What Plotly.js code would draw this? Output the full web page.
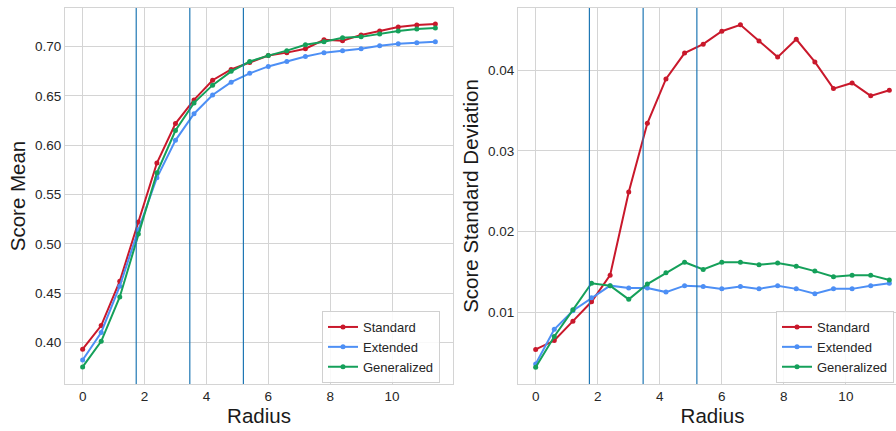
<!DOCTYPE html>
<html>
<head>
<meta charset="utf-8">
<script src="https://cdn.plot.ly/plotly-3.0.1.min.js"></script>
<style>
html, body { margin: 0; padding: 0; overflow: hidden; background: #ffffff; }
#chart { width: 915px; height: 431px; }
</style>
</head>
<body>
<div id="chart"></div>
<script>
// Radius values
const radius = [0, 0.6, 1.2, 1.8, 2.4, 3.0, 3.6, 4.2, 4.8, 5.4, 6.0, 6.6, 7.2, 7.8, 8.4, 9.0, 9.6, 10.2, 10.8, 11.4];

// Score mean
const meanStandard    = [0.393, 0.417, 0.462, 0.522, 0.582, 0.622, 0.646, 0.666, 0.677, 0.684, 0.691, 0.694, 0.698, 0.707, 0.706, 0.712, 0.716, 0.720, 0.722, 0.723];
const meanExtended    = [0.382, 0.410, 0.457, 0.514, 0.567, 0.605, 0.632, 0.651, 0.664, 0.673, 0.680, 0.685, 0.690, 0.694, 0.696, 0.698, 0.701, 0.703, 0.704, 0.705];
const meanGeneralized = [0.375, 0.401, 0.446, 0.510, 0.572, 0.615, 0.643, 0.661, 0.675, 0.685, 0.691, 0.696, 0.702, 0.705, 0.709, 0.710, 0.713, 0.716, 0.718, 0.719];

// Score standard deviation
const sdStandard    = [0.0054, 0.0065, 0.0089, 0.0113, 0.0146, 0.0249, 0.0334, 0.0389, 0.0421, 0.0432, 0.0448, 0.0456, 0.0436, 0.0416, 0.0438, 0.0410, 0.0377, 0.0384, 0.0368, 0.0375];
const sdExtended    = [0.0036, 0.0079, 0.0102, 0.0118, 0.0133, 0.0130, 0.0130, 0.0125, 0.0133, 0.0132, 0.0129, 0.0132, 0.0129, 0.0133, 0.0129, 0.0123, 0.0129, 0.0129, 0.0133, 0.0136];
const sdGeneralized = [0.0032, 0.0070, 0.0103, 0.0136, 0.0133, 0.0116, 0.0135, 0.0149, 0.0162, 0.0153, 0.0162, 0.0162, 0.0159, 0.0161, 0.0157, 0.0151, 0.0144, 0.0146, 0.0146, 0.0140];

// Vertical reference lines (multiples of sqrt(3))
const boundaries = [1.732, 3.464, 5.196];

const seriesNames = ["Standard", "Extended", "Generalized"];
const seriesColors = ["#c9182b", "#4d8ff5", "#15a05a"];

const meanSeries = [meanStandard, meanExtended, meanGeneralized];
const sdSeries = [sdStandard, sdExtended, sdGeneralized];

const traces = [];
meanSeries.forEach((ys, i) => {
  traces.push({
    x: radius, y: ys, name: seriesNames[i], type: "scatter", mode: "lines+markers",
    line: {color: seriesColors[i], width: 2},
    marker: {color: seriesColors[i], size: 5},
    xaxis: "x", yaxis: "y", legend: "legend"
  });
});
sdSeries.forEach((ys, i) => {
  traces.push({
    x: radius, y: ys, name: seriesNames[i], type: "scatter", mode: "lines+markers",
    line: {color: seriesColors[i], width: 2},
    marker: {color: seriesColors[i], size: 5},
    xaxis: "x2", yaxis: "y2", legend: "legend2"
  });
});

const shapes = [];
boundaries.forEach(b => {
  shapes.push({type: "line", xref: "x", yref: "y domain", x0: b, x1: b, y0: 0, y1: 1,
    line: {color: "#1f77b4", width: 1.2}, layer: "above"});
  shapes.push({type: "line", xref: "x2", yref: "y2 domain", x0: b, x1: b, y0: 0, y1: 1,
    line: {color: "#1f77b4", width: 1.2}, layer: "above"});
});

const fontFam = "Liberation Sans, Arial, Helvetica, sans-serif";
const gridC = "#d4d4d4";

const xcommon = {
  range: [-0.57, 11.97], tickvals: [0, 2, 4, 6, 8, 10], ticktext: ["0", "2", "4", "6", "8", "10"],
  showgrid: true, gridcolor: gridC, gridwidth: 1, zeroline: false,
  showline: true, linecolor: gridC, linewidth: 1, mirror: true, ticks: "",
  tickfont: {family: fontFam, size: 13.5, color: "#262626"},
  title: {text: "Radius", font: {family: fontFam, size: 20.5, color: "#1a1a1a"}, standoff: 4}
};

const legendCommon = {
  yanchor: "top", xanchor: "left", xref: "paper", yref: "paper",
  bgcolor: "rgba(255,255,255,0.85)", bordercolor: "#d0d0d0", borderwidth: 1,
  font: {family: fontFam, size: 13, color: "#262626"},
  tracegroupgap: 0, itemwidth: 30
};

const layout = {
  width: 915, height: 431,
  margin: {l: 65, r: 8, t: 8, b: 47},
  paper_bgcolor: "#ffffff", plot_bgcolor: "#ffffff",
  font: {family: fontFam, color: "#262626"},
  showlegend: true,
  xaxis: Object.assign({}, xcommon, {domain: [0, 0.4608], anchor: "y"}),
  xaxis2: Object.assign({}, xcommon, {domain: [0.538, 1], anchor: "y2"}),
  yaxis: {
    domain: [0, 1], anchor: "x", range: [0.3577, 0.7393],
    tickvals: [0.40, 0.45, 0.50, 0.55, 0.60, 0.65, 0.70], tickformat: ".2f",
    showgrid: true, gridcolor: gridC, gridwidth: 1, zeroline: false,
    showline: true, linecolor: gridC, linewidth: 1, mirror: true, ticks: "",
    tickfont: {family: fontFam, size: 13.5, color: "#262626"},
    title: {text: "Score Mean", font: {family: fontFam, size: 20.5, color: "#1a1a1a"}, standoff: 3}
  },
  yaxis2: {
    domain: [0, 1], anchor: "x2", range: [0.00112, 0.04768],
    tickvals: [0.01, 0.02, 0.03, 0.04], tickformat: ".2f",
    showgrid: true, gridcolor: gridC, gridwidth: 1, zeroline: false,
    showline: true, linecolor: gridC, linewidth: 1, mirror: true, ticks: "",
    tickfont: {family: fontFam, size: 13.5, color: "#262626"},
    title: {text: "Score Standard Deviation", font: {family: fontFam, size: 20.5, color: "#1a1a1a"}, standoff: 3}
  },
  legend: Object.assign({}, legendCommon, {x: (322 - 65) / 842, y: (431 - 47 - 311) / 376}),
  legend2: Object.assign({}, legendCommon, {x: (776 - 65) / 842, y: (431 - 47 - 311) / 376}),
  shapes: shapes
};

Plotly.newPlot("chart", traces, layout, {displayModeBar: false, staticPlot: true});
</script>
</body>
</html>
